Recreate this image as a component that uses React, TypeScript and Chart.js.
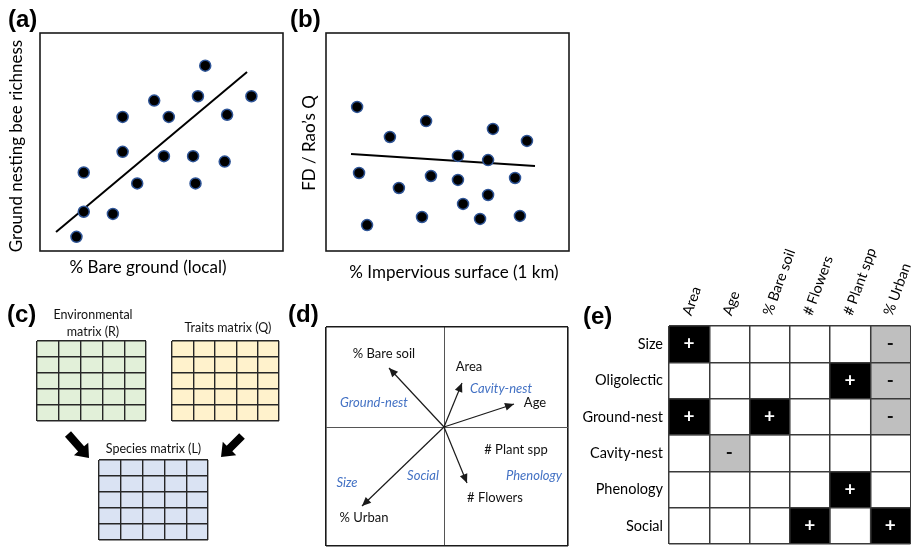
import { useEffect, useRef } from 'react';
import { Chart, registerables } from 'chart.js';

Chart.register(...registerables);

const CW = 911;
const CH = 548;
const SANS = 'Lato, "Open Sans", sans-serif';
const HEAD = '"Liberation Sans", Arial, sans-serif';
Chart.defaults.font.family = SANS;

// ---------------- data ----------------
// (a) ground nesting bee richness vs % bare ground
const aBareGround = [68, 65, 87, 47, 34, 53, 77, 34, 51, 63, 76, 18, 40, 64, 18, 30, 15];
const aRichness = [85, 71, 71, 69, 61.5, 61.5, 62.5, 45.5, 43.5, 43.5, 41, 36, 31, 31, 18, 17, 6.5];
const aFitX = [6.6, 85.2];
const aFitY = [8.7, 82.1];
const aAxisTitles = ['% Bare ground (local)', 'Ground nesting bee richness'];

// (b) FD / Rao's Q vs % impervious surface
const bImpervious = [12.8, 41.2, 68.7, 26.3, 82.7, 54.3, 66.7, 13.6, 43.2, 54.3, 77.8, 30.0, 66.7, 56.4, 39.5, 63.4, 79.8, 16.9];
const bRaoQ = [66.1, 59.6, 56.0, 52.3, 50.5, 43.6, 41.7, 35.8, 34.4, 32.6, 33.5, 28.9, 25.7, 21.6, 15.6, 14.7, 16.1, 11.9];
const bFitX = [10.3, 86.0];
const bFitY = [44.5, 39.0];
const bAxisTitles = ['% Impervious surface (1 km)', 'FD / Rao\u2019s Q'];

// (c) matrices
const cMatrixRows = 5;
const cMatrixCols = 5;
const cMatrixTitles = [['Environmental', 'matrix (R)'], ['Traits matrix (Q)'], ['Species matrix (L)']];
const cMatrixFills = ['#e2f0d9', '#fff2cc', '#dae3f3'];

// (d) RLQ biplot
const dArrowX = [-0.55, 0.18, 0.70, 0.23, -0.82];
const dArrowY = [0.59, 0.44, 0.23, -0.56, -0.79];
const dEnvLabels = ['% Bare soil', 'Area', 'Age', '# Plant spp', '# Flowers', '% Urban'];
const dEnvLabelX = [-0.60, 0.25, 0.91, 0.72, 0.51, -0.80];
const dEnvLabelY = [0.73, 0.60, 0.24, -0.23, -0.71, -0.91];
const dTraitLabels = ['Ground-nest', 'Cavity-nest', 'Size', 'Social', 'Phenology'];
const dTraitX = [-0.70, 0.57, -0.97, -0.21, 0.90];
const dTraitY = [0.24, 0.38, -0.56, -0.49, -0.49];

// (e) fourth-corner table
const eCols = ['Area', 'Age', '% Bare soil', '# Flowers', '# Plant spp', '% Urban'];
const eRows = ['Size', 'Oligolectic', 'Ground-nest', 'Cavity-nest', 'Phenology', 'Social'];
const ePosCol = ['Area', '# Plant spp', 'Area', '% Bare soil', '# Plant spp', '# Flowers', '% Urban'];
const ePosRow = ['Size', 'Oligolectic', 'Ground-nest', 'Ground-nest', 'Phenology', 'Social', 'Social'];
const eNegCol = ['% Urban', '% Urban', '% Urban', 'Age'];
const eNegRow = ['Size', 'Oligolectic', 'Ground-nest', 'Cavity-nest'];
const eSigns = ['+', '-'];

const panelTags = ['(a)', '(b)', '(c)', '(d)', '(e)'];

// ---------------- layout ----------------
type Box = { l: number; t: number; r: number; b: number };
const BOX_A: Box = { l: 40, t: 33, r: 283, b: 251 };
const BOX_B: Box = { l: 326, t: 33, r: 569, b: 251 };
const BOX_ENV: Box = { l: 37, t: 341, r: 146, b: 421 };
const BOX_TRAIT: Box = { l: 172, t: 341, r: 279, b: 421 };
const BOX_SPEC: Box = { l: 99, t: 460, r: 208, b: 540 };
const BOX_D: Box = { l: 326, t: 327, r: 568, b: 546 };
const BOX_E: Box = { l: 669, t: 326, r: 910.5, b: 544 };
const E_XAXIS_H = 80;
const E_YAXIS_W = 100;

function padding(b: Box) {
  return { left: b.l, top: b.t, right: CW - b.r, bottom: CH - b.b };
}

function text(ctx: CanvasRenderingContext2D, str: string, x: number, y: number, font: string,
  color = '#000', align: CanvasTextAlign = 'center', baseline: CanvasTextBaseline = 'middle', rot = 0) {
  ctx.save();
  ctx.translate(x, y);
  if (rot) ctx.rotate(rot);
  ctx.font = font;
  ctx.fillStyle = color;
  ctx.textAlign = align;
  ctx.textBaseline = baseline;
  ctx.fillText(str, 0, 0);
  ctx.restore();
}

function common(box: Box) {
  return {
    responsive: false,
    maintainAspectRatio: false,
    animation: false as const,
    events: [] as any[],
    layout: { padding: padding(box) },
    plugins: { legend: { display: false }, tooltip: { enabled: false } },
  };
}

const zeroPad = (s: any) => {
  s.paddingLeft = 0;
  s.paddingRight = 0;
  s.paddingTop = 0;
  s.paddingBottom = 0;
};

const zeroFit = (s: any) => {
  if (s.isHorizontal()) s.height = 0;
  else s.width = 0;
  zeroPad(s);
};

const framePlugin = {
  id: 'frame',
  beforeDatasetsDraw(chart: any) {
    const { ctx, chartArea: a } = chart;
    ctx.save();
    ctx.strokeStyle = '#1a1a1a';
    ctx.lineWidth = 1.6;
    ctx.strokeRect(a.left, a.top, a.right - a.left, a.bottom - a.top);
    ctx.restore();
  },
};

type Off = { tagX: number; tagY: number; xtX: number; xtY: number; ytX: number; ytY: number };

function makeScatter(cv: HTMLCanvasElement, box: Box, xs: number[], ys: number[], fx: number[], fy: number[],
  tag: string, titles: string[], off: Off) {
  const labels = {
    id: 'labels',
    afterDraw(chart: any) {
      const { ctx, chartArea: a } = chart;
      text(ctx, tag, a.left + off.tagX, a.top + off.tagY, `bold 24px ${HEAD}`, '#000', 'left', 'alphabetic');
      text(ctx, titles[0], a.left + off.xtX, a.bottom + off.xtY, `17px ${SANS}`);
      text(ctx, titles[1], a.left + off.ytX, (a.top + a.bottom) / 2 + off.ytY, `17px ${SANS}`, '#000', 'center', 'middle', -Math.PI / 2);
    },
  };
  return new Chart(cv, {
    type: 'scatter',
    data: {
      datasets: [
        {
          data: xs.map((x, i) => ({ x, y: ys[i] })),
          pointRadius: 5.5,
          pointBackgroundColor: '#000',
          pointBorderColor: '#2f5597',
          pointBorderWidth: 1.5,
        },
        {
          data: fx.map((x, i) => ({ x, y: fy[i] })),
          showLine: true,
          pointRadius: 0,
          borderColor: '#000',
          borderWidth: 2,
        },
      ],
    },
    options: {
      ...common(box),
      scales: {
        x: { type: 'linear', min: 0, max: 100, display: false },
        y: { type: 'linear', min: 0, max: 100, display: false },
      },
    } as any,
    plugins: [framePlugin, labels],
  });
}

function gridAxis(n: number) {
  return {
    type: 'linear',
    min: 0,
    max: n,
    ticks: { display: false },
    border: { display: false },
    grid: { drawTicks: false, color: '#262626', lineWidth: 1.4 },
    afterBuildTicks: (s: any) => {
      s.ticks = Array.from({ length: n + 1 }, (_, i) => ({ value: i }));
    },
    afterFit: zeroFit,
  };
}

function blockArrow(ctx: CanvasRenderingContext2D, tx: number, ty: number, px: number, py: number) {
  const dx = px - tx, dy = py - ty;
  const len = Math.hypot(dx, dy);
  const ux = dx / len, uy = dy / len;
  const nx = -uy, ny = ux;
  const sw = 4, hw = 9.5, hl = 12;
  const bx = px - ux * hl, by = py - uy * hl;
  ctx.beginPath();
  ctx.moveTo(tx + nx * sw, ty + ny * sw);
  ctx.lineTo(bx + nx * sw, by + ny * sw);
  ctx.lineTo(bx + nx * hw, by + ny * hw);
  ctx.lineTo(px, py);
  ctx.lineTo(bx - nx * hw, by - ny * hw);
  ctx.lineTo(bx - nx * sw, by - ny * sw);
  ctx.lineTo(tx - nx * sw, ty - ny * sw);
  ctx.closePath();
  ctx.fill();
}

function makeMatrix(cv: HTMLCanvasElement, box: Box, idx: number, titleOffX: number, titleOffY: number, extra?: (ctx: CanvasRenderingContext2D, a: any) => void) {
  const deco = {
    id: 'deco',
    beforeDraw(chart: any) {
      const { ctx, chartArea: a } = chart;
      ctx.save();
      ctx.fillStyle = cMatrixFills[idx];
      ctx.fillRect(a.left, a.top, a.right - a.left, a.bottom - a.top);
      ctx.restore();
    },
    afterDraw(chart: any) {
      const { ctx, chartArea: a } = chart;
      const lines = cMatrixTitles[idx];
      const cx = (a.left + a.right) / 2 + titleOffX;
      lines.forEach((ln, i) => {
        text(ctx, ln, cx, a.top + titleOffY + i * 17, `12.5px ${SANS}`, '#111');
      });
      if (extra) extra(ctx, a);
    },
  };
  return new Chart(cv, {
    type: 'scatter',
    data: { datasets: [] },
    options: {
      ...common(box),
      scales: { x: gridAxis(cMatrixCols), y: gridAxis(cMatrixRows) },
    } as any,
    plugins: [deco],
  });
}

function dAxis(min: number, max: number) {
  return {
    type: 'linear',
    min,
    max,
    ticks: { display: false },
    border: { display: false },
    grid: {
      drawTicks: false,
      color: (c: any) => (c.tick && c.tick.value === 0 ? '#555' : '#1a1a1a'),
      lineWidth: (c: any) => (c.tick && c.tick.value === 0 ? 1 : 1.6),
    },
    afterBuildTicks: (s: any) => {
      s.ticks = [{ value: min }, { value: 0 }, { value: max }];
    },
    afterFit: zeroFit,
  };
}

function makeBiplot(cv: HTMLCanvasElement) {
  const deco = {
    id: 'biplotDeco',
    afterDatasetsDraw(chart: any) {
      const { ctx } = chart;
      ctx.save();
      ctx.fillStyle = '#1a1a1a';
      chart.data.datasets.forEach((_: any, i: number) => {
        const pts = chart.getDatasetMeta(i).data;
        const p0 = pts[0], p1 = pts[1];
        const ang = Math.atan2(p1.y - p0.y, p1.x - p0.x);
        const L = 9, w = 4;
        const c = Math.cos(ang), s = Math.sin(ang);
        ctx.beginPath();
        ctx.moveTo(p1.x, p1.y);
        ctx.lineTo(p1.x - L * c - w * s, p1.y - L * s + w * c);
        ctx.lineTo(p1.x - L * c + w * s, p1.y - L * s - w * c);
        ctx.closePath();
        ctx.fill();
      });
      ctx.restore();
    },
    afterDraw(chart: any) {
      const { ctx, chartArea: a } = chart;
      const xs = chart.scales.x, ys = chart.scales.y;
      dEnvLabels.forEach((lb, i) => {
        text(ctx, lb, xs.getPixelForValue(dEnvLabelX[i]), ys.getPixelForValue(dEnvLabelY[i]), `13px ${SANS}`, '#111');
      });
      dTraitLabels.forEach((lb, i) => {
        text(ctx, lb, xs.getPixelForValue(dTraitX[i]), ys.getPixelForValue(dTraitY[i]), `italic 13px ${SANS}`, '#4472c4');
      });
      text(ctx, panelTags[3], a.left - 38, a.top - 5, `bold 24px ${HEAD}`, '#000', 'left', 'alphabetic');
    },
  };
  return new Chart(cv, {
    type: 'scatter',
    data: {
      datasets: dArrowX.map((x, i) => ({
        data: [{ x: 0, y: 0 }, { x, y: dArrowY[i] }],
        showLine: true,
        pointRadius: 0,
        borderColor: '#1a1a1a',
        borderWidth: 1.2,
      })),
    },
    options: {
      ...common(BOX_D),
      scales: { x: dAxis(-1.18, 1.24), y: dAxis(-1.19, 1.0) },
    } as any,
    plugins: [deco],
  });
}

function makeTable(cv: HTMLCanvasElement) {
  const cell = (cols: string[], rows: string[]) =>
    cols.map((c, i) => {
      const r = eRows.indexOf(rows[i]);
      return { x: c, y: [r, r + 1] };
    });
  const gridColor = '#3a3a3a';
  const signs = {
    id: 'signs',
    afterDatasetsDraw(chart: any) {
      const { ctx } = chart;
      chart.data.datasets.forEach((_: any, i: number) => {
        chart.getDatasetMeta(i).data.forEach((el: any) => {
          const p = el.getCenterPoint();
          text(ctx, eSigns[i], p.x, p.y, `bold 19px ${SANS}`, i === 0 ? '#fff' : '#111');
        });
      });
    },
    afterDraw(chart: any) {
      const { ctx, chartArea: a } = chart;
      text(ctx, panelTags[4], a.left - 86, a.top - 2, `bold 24px ${HEAD}`, '#000', 'left', 'alphabetic');
    },
  };
  const opts: any = common(BOX_E);
  opts.layout.padding.left = BOX_E.l - E_YAXIS_W;
  opts.layout.padding.top = BOX_E.t - E_XAXIS_H;
  return new Chart(cv, {
    type: 'bar',
    data: {
      labels: eCols,
      datasets: [
        { data: cell(ePosCol, ePosRow), backgroundColor: '#000' },
        { data: cell(eNegCol, eNegRow), backgroundColor: '#bfbfbf' },
      ],
    } as any,
    options: {
      ...opts,
      datasets: { bar: { grouped: false, barPercentage: 1, categoryPercentage: 1, borderWidth: 0 } },
      scales: {
        x: {
          type: 'category',
          position: 'top',
          offset: true,
          border: { display: false },
          grid: {
            offset: true,
            drawTicks: false,
            z: 1,
            lineWidth: 1.5,
            color: (c: any) => (c.index >= eCols.length ? 'rgba(0,0,0,0)' : gridColor),
          },
          ticks: {
            minRotation: 70, maxRotation: 70, autoSkip: false, padding: 8, labelOffset: 14,
            color: '#000', font: { size: 14.5, family: SANS },
          },
          afterFit: (s: any) => {
            s.height = E_XAXIS_H;
            zeroPad(s);
          },
        },
        y: {
          type: 'linear',
          min: 0,
          max: eRows.length,
          reverse: true,
          border: { display: false },
          grid: { offset: true, drawTicks: false, z: 1, lineWidth: 1.5, color: gridColor },
          afterBuildTicks: (s: any) => {
            s.ticks = eRows.map((_, i) => ({ value: i + 0.5 }));
          },
          ticks: { callback: (_v: any, i: number) => eRows[i], padding: 6, color: '#000', font: { size: 14.5, family: SANS } },
          afterFit: (s: any) => {
            s.width = E_YAXIS_W;
            zeroPad(s);
          },
        },
      },
    } as any,
    plugins: [signs],
  });
}

export default function App() {
  const holder = useRef<(HTMLCanvasElement | null)[]>([]);

  useEffect(() => {
    const c = holder.current as HTMLCanvasElement[];
    const charts: Chart[] = [];
    charts.push(makeScatter(c[0], BOX_A, aBareGround, aRichness, aFitX, aFitY, panelTags[0], aAxisTitles,
      { tagX: -32, tagY: -6, xtX: 108, xtY: 17, ytX: -23, ytY: 4 }));
    charts.push(makeScatter(c[1], BOX_B, bImpervious, bRaoQ, bFitX, bFitY, panelTags[1], bAxisTitles,
      { tagX: -36, tagY: -6, xtX: 128, xtY: 22, ytX: -16, ytY: 1 }));
    charts.push(makeMatrix(c[2], BOX_ENV, 0, 1.5, -26, (ctx, a) => {
      text(ctx, panelTags[2], a.left - 30, a.top - 19, `bold 24px ${HEAD}`, '#000', 'left', 'alphabetic');
    }));
    charts.push(makeMatrix(c[3], BOX_TRAIT, 1, 2.5, -13));
    charts.push(makeMatrix(c[4], BOX_SPEC, 2, 0, -11, (ctx, a) => {
      ctx.save();
      ctx.fillStyle = '#000';
      blockArrow(ctx, a.left - 31, a.top - 26, a.left - 10, a.top - 2);
      blockArrow(ctx, a.right + 34, a.top - 24, a.right + 13, a.top - 3);
      ctx.restore();
    }));
    charts.push(makeBiplot(c[5]));
    charts.push(makeTable(c[6]));
    return () => charts.forEach((ch) => ch.destroy());
  }, []);

  return (
    <div style={{ position: 'fixed', left: 0, top: 0, width: CW, height: CH, background: '#fff', overflow: 'hidden' }}>
      {[0, 1, 2, 3, 4, 5, 6].map((i) => (
        <canvas
          key={i}
          ref={(el) => {
            holder.current[i] = el;
          }}
          width={CW}
          height={CH}
          style={{ position: 'absolute', left: 0, top: 0 }}
        />
      ))}
    </div>
  );
}
